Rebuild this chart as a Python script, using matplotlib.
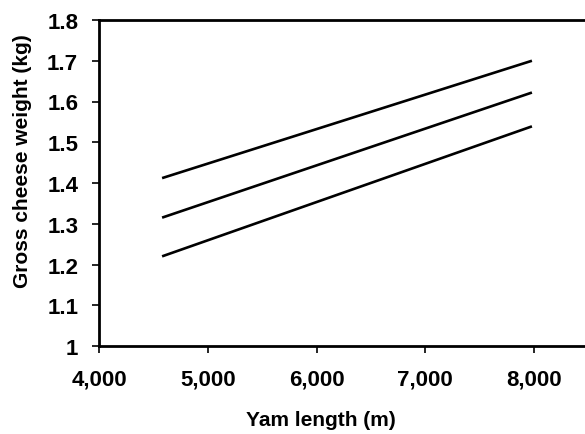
import matplotlib.pyplot as plt
from matplotlib.ticker import FuncFormatter, FormatStrFormatter

# yam length (m) at the ends of each fitted line
yam_length = [4580, 7980]
upper_line = [1.412, 1.700]
middle_line = [1.315, 1.622]
lower_line = [1.220, 1.539]

x_ticks = [4000, 5000, 6000, 7000, 8000]
y_ticks = [1.0, 1.1, 1.2, 1.3, 1.4, 1.5, 1.6, 1.7, 1.8]

plt.rc('font', family='Liberation Sans', weight='bold', size=15)

fig = plt.figure(figsize=(5.85, 4.35), dpi=100)
ax = fig.add_axes([99 / 585, 88 / 435, 489.5 / 585, 326 / 435])

for ys in (upper_line, middle_line, lower_line):
    ax.plot(yam_length, ys, color='black', linewidth=1.9, solid_capstyle='butt')

ax.set_xlim(4000, 8500)
ax.set_ylim(1.0, 1.8)
ax.set_xticks(x_ticks)
ax.set_yticks(y_ticks)
ax.xaxis.set_major_formatter(FuncFormatter(lambda v, p: '{:,.0f}'.format(v)))
ax.yaxis.set_major_formatter(FormatStrFormatter('%g'))

for side in ('left', 'bottom', 'top'):
    ax.spines[side].set_linewidth(2.0)
ax.spines['right'].set_visible(False)
ax.tick_params(axis='both', direction='out', length=5, width=1.2, labelsize=16)
ax.tick_params(axis='y', pad=10)
ax.tick_params(axis='x', pad=11)

fig.text(321 / 585, 1 - 421 / 435, 'Yam length (m)', ha='center', va='center')
fig.text(23 / 585, 1 - 161.5 / 435, 'Gross cheese weight (kg)',
         ha='center', va='center', rotation=90)

plt.savefig('out.png', dpi=100)
